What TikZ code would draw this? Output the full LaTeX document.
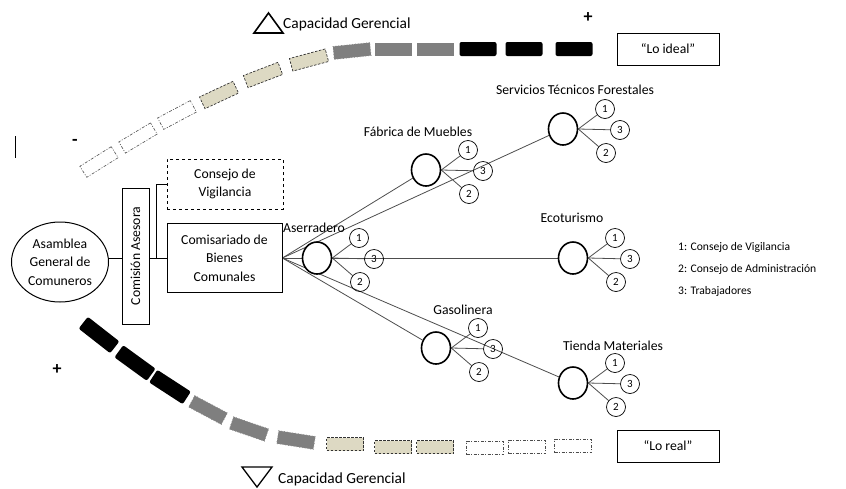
\documentclass[tikz,border=0pt]{standalone}
\usepackage{fontspec}
\setmainfont{Carlito}
\usetikzlibrary{shapes.geometric,backgrounds}
\definecolor{beige}{HTML}{DDD9C3}
\definecolor{midgray}{HTML}{7F7F7F}
\definecolor{linegray}{HTML}{4D4D4D}
\begin{document}
\begin{tikzpicture}[x=1pt,y=-1pt,
  every node/.style={font=\fontsize{13.7}{18.5}\selectfont, inner sep=0pt},
  seg/.style={minimum width=37, minimum height=13, inner sep=0pt, outer sep=0pt},
  segw/.style={seg, draw=black!70, dash pattern=on 3pt off 1.5pt on 1pt off 1.5pt, line width=0.6pt},
  segb/.style={seg, fill=beige, draw=black!80, dash pattern=on 2.5pt off 1.5pt, line width=0.7pt},
  segd/.style={seg, fill=midgray, draw=black!45, dotted, line width=0.8pt},
  segg/.style={seg, fill=midgray},
  segk/.style={seg, fill=black, rounded corners=2pt},
  segkb/.style={segk, minimum width=40, minimum height=15},
  mainc/.style={ellipse, draw, line width=1.6pt, fill=white, minimum width=29, minimum height=32},
  sm/.style={circle, draw, line width=0.7pt, minimum size=19, font=\fontsize{11}{11}\selectfont},
  conn/.style={draw=linegray, line width=0.8pt},
  boxn/.style={draw, line width=0.8pt, align=center},
  lbl/.style={anchor=center},
  leg/.style={anchor=west, font=\fontsize{11.6}{14}\selectfont},
  sign/.style={font=\fontsize{18}{18}\selectfont\bfseries}
]
\useasboundingbox (0,0) rectangle (846,488);

% ---- top "ideal" curve
\node[segw, rotate=32] (t1) at (99,162) {};
\node[segw, rotate=31] (t2) at (138,138) {};
\node[segw, rotate=28] (t3) at (177,115) {};
\node[segb, rotate=25] (t4) at (219,95) {};
\node[segb, rotate=21] (t5) at (263,75) {};
\node[segb, rotate=15] (t6) at (309,60) {};
\node[segd, rotate=6] (t7) at (352,51) {};
\node[segg] (t8) at (393,49) {};
\node[segg] (t9) at (435,49) {};
\node[segk, minimum height=14] (t10) at (478,49) {};
\node[segk, minimum height=14] (t11) at (524,49) {};
\node[segk, minimum height=14] (t12) at (574,49) {};

% ---- bottom "real" curve
\node[segkb, rotate=-38] (b1) at (99,335) {};
\node[segkb, rotate=-36] (b2) at (135,363) {};
\node[segkb, rotate=-33] (b3) at (170,387) {};
\node[segd, rotate=-28] (b4) at (208,410) {};
\node[segd, rotate=-19] (b5) at (249,429) {};
\node[segd, rotate=-9] (b6) at (296,440) {};
\node[segb] (b7) at (345,444) {};
\node[segb] (b8) at (393,447) {};
\node[segb] (b9) at (435,447) {};
\node[segw] (b10) at (485,448) {};
\node[segw] (b11) at (527,447) {};
\node[segw] (b12) at (573,446) {};

% ---- signs and headings
\node[sign] (plustop) at (588,18) {+};
\node[sign] (minustop) at (75,142) {-};
\node[sign] (plusbot) at (57,370) {+};
\draw[line width=1pt] (15,136) -- (15,158);

\draw[line width=1.6pt, line join=miter] (254,33) -- (283,33) -- (268.5,13) -- cycle;
\node[anchor=west, font=\fontsize{15.4}{18}\selectfont] (captop) at (283,24) {Capacidad Gerencial};
\draw[line width=1.3pt, line join=miter] (242,467) -- (272,467) -- (257,487) -- cycle;
\node[anchor=west, font=\fontsize{15.4}{18}\selectfont] (capbot) at (278,479) {Capacidad Gerencial};

\node[boxn, minimum width=102, minimum height=32] (ideal) at (668,49) {“Lo ideal”};
\node[boxn, minimum width=102, minimum height=32] (real) at (668,446) {“Lo real”};

% ---- organisation
\node[ellipse, draw, line width=1pt, minimum width=97, minimum height=80, align=center] (asam) at (60,262) {Asamblea\\General de\\Comuneros};
\node[draw, line width=0.8pt, minimum width=27, minimum height=136] (com) at (135.5,256) {};
\node[rotate=90] (comT) at (com.center) {Comisión Asesora};
\node[boxn, dashed, minimum width=116, minimum height=50] (cons) at (225,184) {Consejo de\\Vigilancia};
\node[boxn, minimum width=115, minimum height=69] (comis) at (224.5,258) {Comisariado de\\Bienes\\Comunales};
\coordinate (j) at (156,258);

\node[mainc] (ase) at (317,258) {};
\node[mainc] (fab) at (426,170) {};
\node[mainc] (serv) at (563,129) {};
\node[mainc] (eco) at (573,258) {};
\node[mainc] (gas) at (436,348) {};
\node[mainc] (tie) at (573,383) {};

\node[lbl] (aseL) at (314,228) {Aserradero};
\node[lbl] (fabL) at (418,132) {Fábrica de Muebles};
\node[lbl] (servL) at (575,90) {Servicios Técnicos Forestales};
\node[lbl] (ecoL) at (572,218) {Ecoturismo};
\node[lbl] (gasL) at (463,310) {Gasolinera};
\node[lbl] (tieL) at (613,346) {Tienda Materiales};

\foreach \n in {ase,fab,serv,eco,gas,tie}{
  \node[sm] (\n1) at ([shift={(42,-20)}]\n.center) {1};
  \node[sm] (\n3) at ([shift={(57,1)}]\n.center) {3};
  \node[sm] (\n2) at ([shift={(43,24)}]\n.center) {2};
}

\node[leg] (l1) at (678,247) {1: Consejo de Vigilancia};
\node[leg] (l2) at (678,269) {2: Consejo de Administración};
\node[leg] (l3) at (678,291) {3: Trabajadores};

\begin{scope}[on background layer]
  \draw[line width=0.8pt] (com.west |- j) -- (com.west |- j -| asam.east);
  \draw[line width=0.8pt] (com.east |- j) -- (comis.west |- j);
  \draw[line width=0.8pt] (j) |- (cons.west);
  \draw[conn] (comis.east) -- (eco);
  \draw[conn] (comis.east) -- (fab);
  \draw[conn] (comis.east) -- (serv);
  \draw[conn] (comis.east) -- (gas);
  \draw[conn] (comis.east) -- (tie);
  \foreach \n in {ase,fab,serv,eco,gas,tie}{
    \draw[conn] (\n.east) -- (\n1);
    \draw[conn] (\n.east) -- (\n3);
    \draw[conn] (\n.east) -- (\n2);
  }
\end{scope}
\end{tikzpicture}
\end{document}
